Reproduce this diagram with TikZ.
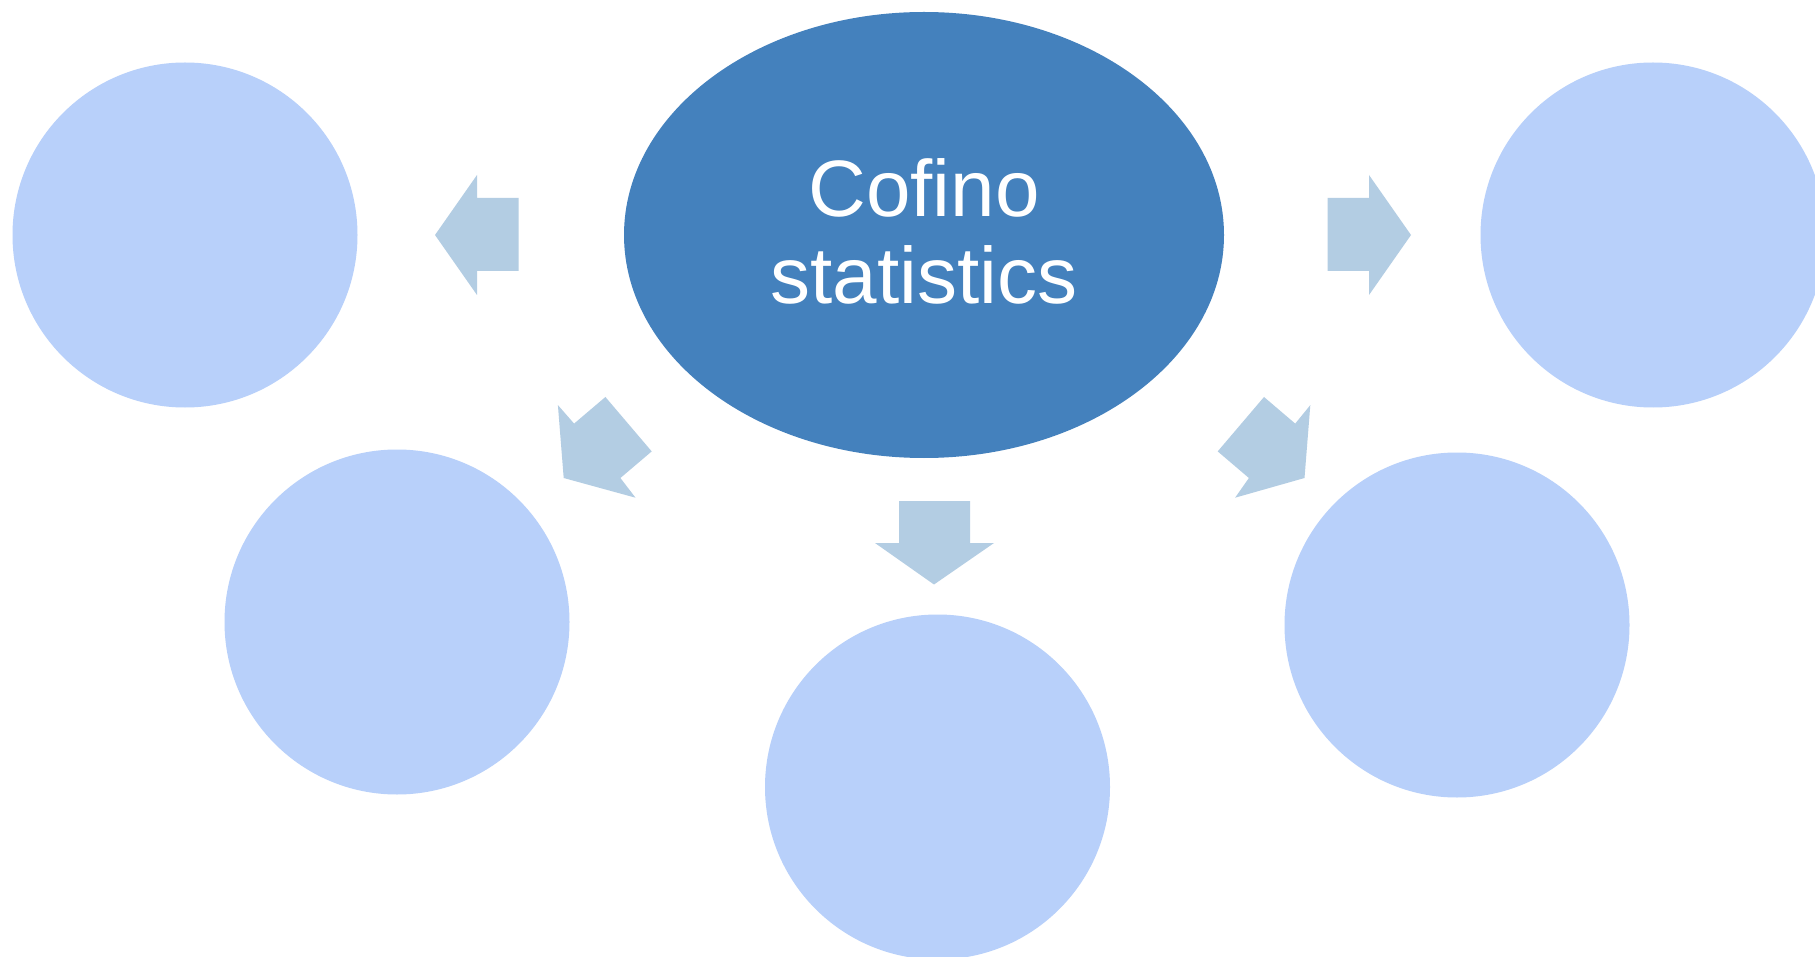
\documentclass[tikz,border=0pt]{standalone}
\usepackage{fontspec}
\setmainfont{Liberation Sans}[Ligatures=NoCommon]
\usetikzlibrary{shapes.geometric}
\definecolor{hubblue}{RGB}{68,129,189}
\definecolor{leafblue}{RGB}{184,208,250}
\definecolor{arrowblue}{RGB}{179,205,227}
\tikzset{
  leaf/.style={circle, fill=leafblue, draw=none, minimum size=345pt, inner sep=0pt},
  hub/.style={ellipse, fill=hubblue, draw=none, minimum width=600pt, minimum height=446pt, inner sep=0pt},
  hubtext/.style={text=white, align=center, font=\fontsize{80pt}{87pt}\selectfont, inner sep=0pt},
  blockarrow/.style={fill=arrowblue, draw=none}
}
\begin{document}
\begin{tikzpicture}[x=1pt, y=-1pt]
\path[use as bounding box, fill=white] (0,0) rectangle (1815,957);
\node[hub] (hub) at (924,235) {};
\node[hubtext] (hubt) at (924,231.5) {Cofino\\[0pt]statistics};
\node[leaf] (tl) at (185,235) {};
\node[leaf] (tr) at (1653,235) {};
\node[leaf] (ml) at (397,622) {};
\node[leaf] (mr) at (1457,625) {};
\node[leaf] (bc) at (937.5,787) {};
% left arrow
\fill[blockarrow] (518.6,198) -- (477,198) -- (477,175) -- (435,235) -- (477,295) -- (477,271) -- (518.6,271) -- cycle;
% right arrow
\fill[blockarrow] (1327.7,198) -- (1369,198) -- (1369,175) -- (1411,235) -- (1369,295) -- (1369,271) -- (1327.7,271) -- cycle;
% down arrow
\fill[blockarrow] (899,501) -- (970,501) -- (970,543) -- (994,543) -- (934,584.5) -- (875,543) -- (899,543) -- cycle;
% down-left arrow
\fill[blockarrow] (557.9,405.1) -- (574.1,423.6) -- (605.4,397.0) -- (651.7,451.4) -- (620.4,478.0) -- (635.5,497.7) -- (563.7,478.0) -- cycle;
% down-right arrow
\fill[blockarrow] (1310.3,405.1) -- (1295.2,423.6) -- (1264.0,397.0) -- (1217.7,451.4) -- (1248.9,478.0) -- (1235.1,497.7) -- (1304.5,478.0) -- cycle;
\end{tikzpicture}
\end{document}
